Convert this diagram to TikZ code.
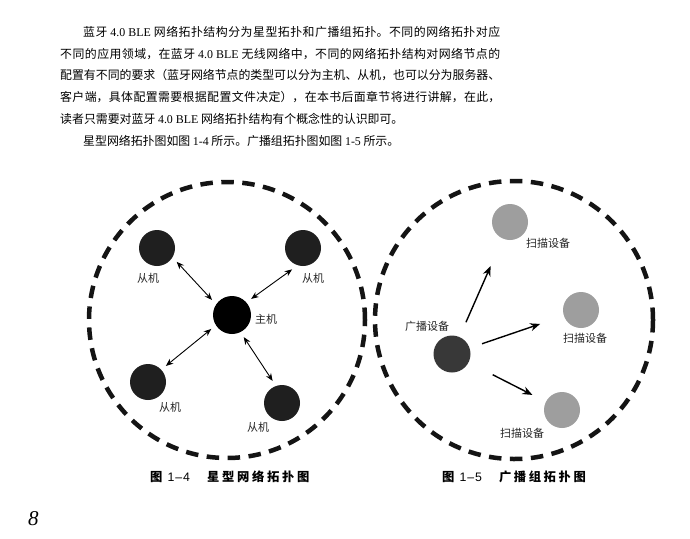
\documentclass[tikz,border=0pt]{standalone}
\usepackage{fontspec}
\setmainfont{Noto Sans CJK SC}
\newfontfamily\lat{Liberation Serif}
\newfontfamily\latsans{Liberation Sans}
\usetikzlibrary{arrows.meta}
\XeTeXlinebreaklocale "zh"
\XeTeXlinebreakskip=0pt plus 3pt minus 0.3pt
\XeTeXinterchartokenstate=1
\XeTeXinterchartoks 1 1 = {\hskip 0pt plus 3pt minus 0.3pt\relax}
\XeTeXinterchartoks 3 1 = {\hskip 0pt plus 3pt minus 0.3pt\relax}
\XeTeXinterchartoks 1 2 = {\hskip 0pt plus 3pt minus 0.3pt\relax}
\tolerance=10000
\hbadness=10000
\newcommand\jline[2]{\parbox[t]{#1}{\parfillskip=0pt\relax #2}}
\begin{document}
\begin{tikzpicture}[x=1pt,y=-1pt,
  slavenode/.style={circle,fill=black!88,minimum size=36pt,inner sep=0pt,outer sep=6pt},
  masternode/.style={circle,fill=black,minimum size=38pt,inner sep=0pt,outer sep=6pt},
  scannode/.style={circle,fill=black!38,minimum size=36pt,inner sep=0pt},
  bcastnode/.style={circle,fill=black!78,minimum size=37pt,inner sep=0pt},
  lbl/.style={font=\fontsize{11pt}{12pt}\selectfont,text=black!85,inner sep=0pt},
  plainline/.style={anchor=base west,inner sep=0pt,font=\fontsize{11.9pt}{14pt}\selectfont,text=black},
  capt/.style={anchor=base west,inner sep=0pt,font=\fontsize{12.3pt}{14pt}\selectfont\bfseries,text=black},
  dashring/.style={circle,draw=black!92,line width=4.5pt,dash pattern=on 12.5pt off 8.5pt,inner sep=0pt,minimum size=#1},
  biarrow/.style={line width=0.9pt,{Stealth[length=7.5pt,width=6pt]}-{Stealth[length=7.5pt,width=6pt]}},
  bcarrow/.style={line width=1.4pt,-{Stealth[length=10pt,width=8pt]}},
]
\useasboundingbox[fill=white] (0,0) rectangle (690,538);

% body text
\node[plainline] (t1) at (83,36.5) {\jline{417pt}{蓝牙 {\lat 4.0 BLE} 网络拓扑结构分为星型拓扑和广播组拓扑。不同的网络拓扑对应}};
\node[plainline] (t2) at (60,58.2) {\jline{440pt}{不同的应用领域，在蓝牙 {\lat 4.0 BLE} 无线网络中，不同的网络拓扑结构对网络节点的}};
\node[plainline] (t3) at (60,79.9) {\jline{440pt}{配置有不同的要求（蓝牙网络节点的类型可以分为主机、从机，也可以分为服务器、}};
\node[plainline] (t4) at (60,101.6) {\jline{440pt}{客户端，具体配置需要根据配置文件决定），在本书后面章节将进行讲解，在此，}};
\node[plainline] (t5) at (60,123.3) {读者只需要对蓝牙 {\lat 4.0 BLE} 网络拓扑结构有个概念性的认识即可。};
\node[plainline] (t6) at (83,145) {星型网络拓扑图如图 {\lat 1-4} 所示。广播组拓扑图如图 {\lat 1-5} 所示。};

% rings
\node[dashring=276pt] (ring1) at (227,320) {};
\node[dashring=278pt] (ring2) at (514,320) {};

% star topology
\node[slavenode] (tl) at (157,248) {};
\node[slavenode] (tr) at (303,248) {};
\node[masternode] (m) at (232,315) {};
\node[slavenode] (bl) at (148,382) {};
\node[slavenode] (br) at (282,403) {};
\node[lbl] (ltl) at (148,278) {从机};
\node[lbl] (ltr) at (313,278) {从机};
\node[lbl] (lm) at (266,319) {主机};
\node[lbl] (lbl1) at (170,407) {从机};
\node[lbl] (lbr) at (258,427) {从机};
\draw[biarrow] (m.143) -- (tl.325);
\draw[biarrow] (m.40) -- (tr.243);
\draw[biarrow] (m.214) -- (bl.42);
\draw[biarrow] (m.298) -- (br.113);

% broadcast topology
\node[bcastnode] (b) at (452,354) {};
\node[scannode] (s1) at (510,222) {};
\node[scannode] (s2) at (581,310) {};
\node[scannode] (s3) at (562,410) {};
\node[lbl] (lb) at (427,326) {广播设备};
\node[lbl] (ls1) at (548,243) {扫描设备};
\node[lbl] (ls2) at (585,338) {扫描设备};
\node[lbl] (ls3) at (522,433) {扫描设备};
\draw[bcarrow,shorten <=16pt,shorten >=30pt] (b) -- (s1);
\draw[bcarrow,shorten <=13pt,shorten >=25pt] (b) -- (s2);
\draw[bcarrow,shorten <=27pt,shorten >=15pt] (b) -- (s3);

% captions
\node[capt] (c1) at (150,481.5) {图\kern5pt{\latsans\mdseries 1\kern1pt–\kern1pt4}\kern17pt 星\kern2.7pt 型\kern2.7pt 网\kern2.7pt 络\kern2.7pt 拓\kern2.7pt 扑\kern2.7pt 图};
\node[capt] (c2) at (442,481.5) {图\kern5pt{\latsans\mdseries 1\kern1pt–\kern1pt5}\kern17pt 广\kern2.6pt 播\kern2.6pt 组\kern2.6pt 拓\kern2.6pt 扑\kern2.6pt 图};

% page number
\node[anchor=base west,inner sep=0pt,font=\lat\itshape\fontsize{21pt}{24pt}\selectfont] (pg) at (28,525) {8};
\end{tikzpicture}
\end{document}
